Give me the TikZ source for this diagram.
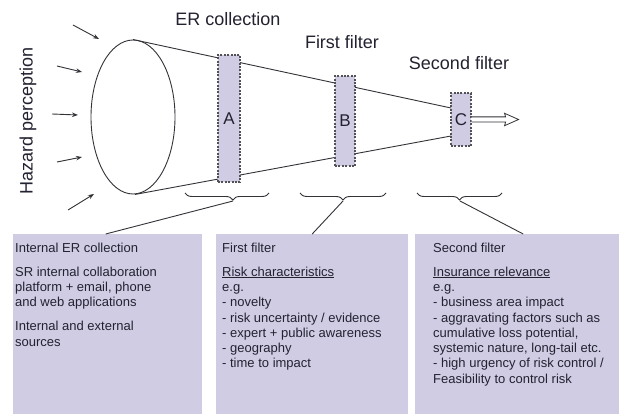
\documentclass[tikz,border=0pt]{standalone}
\usepackage{fontspec}
\setmainfont{Liberation Sans}
\usetikzlibrary{decorations.pathreplacing,calc,arrows.meta,shapes.geometric}
\definecolor{lav}{RGB}{208,204,228}
\definecolor{ink}{RGB}{34,34,48}
\definecolor{edge}{RGB}{50,50,56}
\tikzset{
  toplabel/.style={text=ink,font=\fontsize{18}{20}\selectfont,inner sep=0pt},
  filterbox/.style={fill=lav,draw=edge!85,line width=1.1pt,dash pattern=on 2pt off 1.4pt,
    text=ink,font=\fontsize{17}{19}\selectfont,inner sep=0pt},
  infobox/.style={fill=lav,draw=none,inner sep=0pt,anchor=north west},
  infotext/.style={text=ink,font=\fontsize{13}{15.3}\selectfont,align=left,inner sep=0pt,anchor=north west},
  cone/.style={draw=edge,line width=0.9pt},
  inarrow/.style={draw=edge,line width=0.9pt,-{Stealth[length=6pt,width=4.5pt]}},
  bracket/.style={draw=edge,line width=0.9pt,decorate,decoration={brace,amplitude=7pt,mirror}},
  conn/.style={draw=edge,line width=0.9pt},
}
\begin{document}
\begin{tikzpicture}[x=1pt,y=-1pt]
\useasboundingbox (0,0) rectangle (624,414);

% headings
\node[toplabel] (erc) at (228,19) {ER collection};
\node[toplabel] (ff) at (342,42) {First filter};
\node[toplabel] (sf) at (459,63) {Second filter};
\node[toplabel,rotate=90] (hz) at (28,121) {Hazard perception};

% mouth of the funnel
\node[ellipse,draw=edge,line width=0.9pt,minimum width=84pt,minimum height=154pt,inner sep=0pt] (ell) at (133,117) {};

% incoming hazard arrows
\coordinate (h1s) at (73,25);  \coordinate (h1e) at (99,39);
\coordinate (h2s) at (57,66);  \coordinate (h2e) at (82,72);
\coordinate (h3s) at (52,114); \coordinate (h3e) at (78,115);
\coordinate (h4s) at (57,162); \coordinate (h4e) at (82,157);
\coordinate (h5s) at (68,210); \coordinate (h5e) at (94,194);
\foreach \i in {1,...,5} \draw[inarrow] (h\i s) -- (h\i e);

% funnel sides
\coordinate (ctop) at (451,108);
\coordinate (cbot) at (451,136);
\draw[cone] (ell.north) -- (ctop);
\draw[cone] ($(ell.south)+(2,0)$) -- (cbot);

% filter stages
\node[filterbox,minimum width=22pt,minimum height=127pt] (A) at (229,118.5) {A};
\node[filterbox,minimum width=20pt,minimum height=90pt] (B) at (345,121) {B};
\node[filterbox,minimum width=20pt,minimum height=53pt] (C) at (461,119.5) {C};

% output arrow
\draw[draw=edge,line width=0.8pt,fill=white]
  ($(C.east)+(0,-2.6)$) -- ++(34,0) -- ++(-1,-3.6) -- ++(14,6.2)
  -- ++(-14,6.2) -- ++(1,-3.6) -- ($(C.east)+(0,2.6)$);

% braces under the stages
\draw[bracket,decoration={aspect=0.57}] (185,193) -- (269,193);
\draw[bracket] (300,193) -- (386,193);
\draw[bracket] (417,193) -- (502,193);
\coordinate (k1) at (233,201);
\coordinate (k2) at (343,201);
\coordinate (k3) at (460,201);

% description panels
\node[infobox,minimum width=189pt,minimum height=180pt] (box1) at (13,234) {};
\node[infobox,minimum width=192pt,minimum height=180pt] (box2) at (216,234) {};
\node[infobox,minimum width=204pt,minimum height=180pt] (box3) at (415,234) {};

\draw[conn] (k1) -- ($(box1.north)+(-2,0)$);
\draw[conn] (k2) -- (box2.north);
\draw[conn] (k3) -- ($(box3.north)+(6,0)$);

\node[infotext] (t1) at (15,242.5) {Internal ER collection\\[8.7pt]
SR internal collaboration\\
platform + email, phone\\
and web applications\\[8.7pt]
Internal and external\\
sources};

\node[infotext] (t2) at (222,242.5) {First filter\\[8.7pt]
\underline{Risk characteristics}\\
e.g.\\
- novelty\\
- risk uncertainty / evidence\\
- expert + public awareness\\
- geography\\
- time to impact};

\node[infotext] (t3) at (433,242.5) {Second filter\\[8.7pt]
\underline{Insurance relevance}\\
e.g.\\
- business area impact\\
- aggravating factors such as\\
cumulative loss potential,\\
systemic nature, long-tail etc.\\
- high urgency of risk control /\\
Feasibility to control risk};
\end{tikzpicture}
\end{document}
